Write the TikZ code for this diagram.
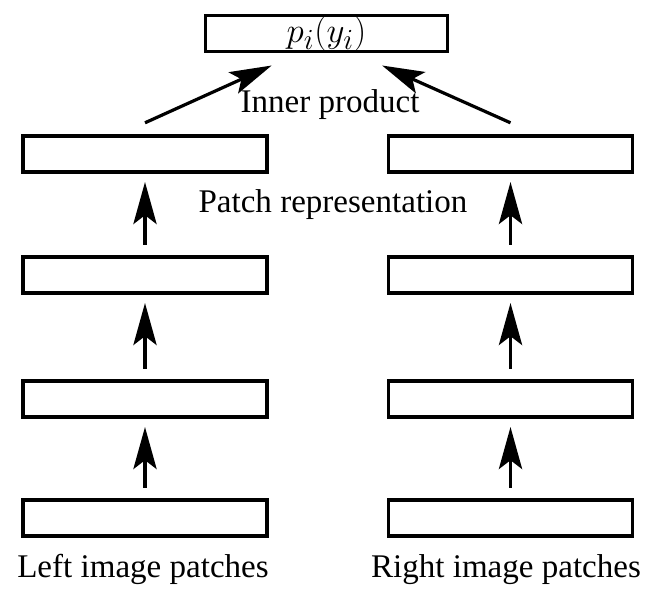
\documentclass[tikz,border=0pt]{standalone}
\usepackage{fontspec}
\setmainfont{Liberation Serif}
\usetikzlibrary{arrows.meta}
\begin{document}
\begin{tikzpicture}[x=0.025cm,y=-0.025cm,line width=0.08cm,
		box/.style={draw,rectangle,minimum width=6.1cm,minimum height=0.9cm,inner sep=0pt,font=\fontsize{23.5}{28}\selectfont},
		arr/.style={-{Stealth[length=1.05cm,width=0.58cm,inset=0.22cm]}},
		lbl/.style={anchor=base,inner sep=0pt,font=\fontsize{23.5}{28}\selectfont}]
	\useasboundingbox (0,0) rectangle (652,593);
	\node[box,minimum width=6.05cm,font=\fontsize{24.88}{30}\selectfont] (top) at (326.5,33.5) {$p_i(y_i)$};
	\foreach \r/\y in {1/154,2/275,3/399,4/518} {
		\node[box] (l\r) at (145,\y) {};
		\node[box] (r\r) at (510.5,\y) {};
	}
	\foreach \a/\b in {2/1,3/2,4/3} {
		\draw[arr,shorten >=0.21cm,shorten <=0.26cm] (l\a) -- (l\b);
		\draw[arr,shorten >=0.21cm,shorten <=0.26cm] (r\a) -- (r\b);
	}
	\draw[arr] ([yshift=0.29cm]l1.north) -- ([xshift=-1.37cm,yshift=-0.31cm]top.south);
	\draw[arr] ([yshift=0.29cm]r1.north) -- ([xshift=1.39cm,yshift=-0.31cm]top.south);
	\node[lbl] (inner) at (330,112) {Inner product};
	\node[lbl] (patch) at (333,212) {Patch representation};
	\node[lbl] (left) at (143,577) {Left image patches};
	\node[lbl] (right) at (506,577) {Right image patches};
\end{tikzpicture}
\end{document}
